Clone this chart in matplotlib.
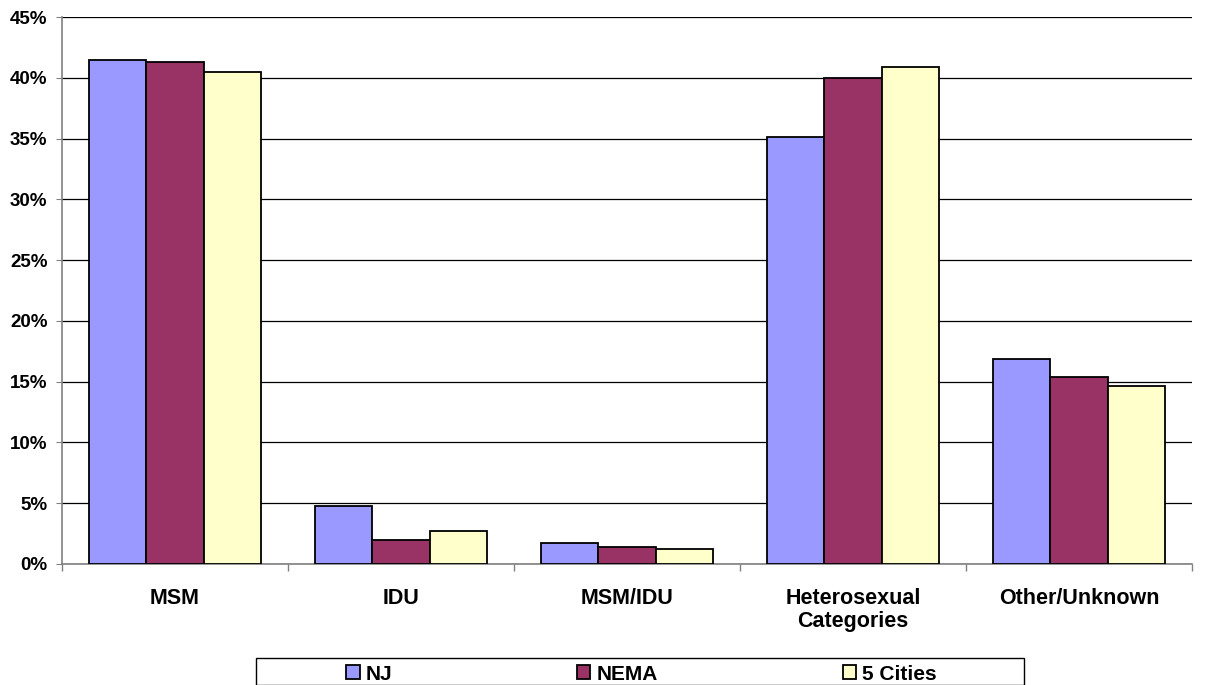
import numpy as np
import matplotlib.pyplot as plt
from matplotlib.patches import Rectangle
from matplotlib.ticker import PercentFormatter

plt.rcParams['font.family'] = ['Liberation Sans', 'DejaVu Sans']

# =====================
# data
# =====================
categories = ["MSM", "IDU", "MSM/IDU", "Heterosexual\nCategories", "Other/Unknown"]
series = ["NJ", "NEMA", "5 Cities"]
nj = [41.5, 4.8, 1.75, 35.15, 16.85]
nema = [41.3, 1.95, 1.4, 40.0, 15.35]
cities5 = [40.5, 2.7, 1.2, 40.9, 14.65]
colors = ["#9999FF", "#993366", "#FFFFCC"]

W, H = 1208, 685

# =====================
# plot
# =====================
fig = plt.figure(figsize=(W / 100, H / 100), dpi=100)
ax = fig.add_axes([62 / W, 1 - 564 / H, 1130 / W, 547 / H])

x = np.arange(len(categories))
w = 0.253
for i, (vals, name) in enumerate(zip([nj, nema, cities5], series)):
    ax.bar(x + (i - 1) * w, vals, width=w, color=colors[i], edgecolor="black",
           linewidth=1.3, label=name, zorder=3)

ax.set_xlim(-0.5, len(categories) - 0.5)
ax.set_ylim(0, 45)
ax.set_yticks(np.arange(0, 46, 5))
ax.yaxis.set_major_formatter(PercentFormatter(decimals=0))
ax.grid(axis="y", color="black", linewidth=0.9, zorder=0)

# category labels centred, ticks between groups
ax.set_xticks(x)
ax.set_xticklabels(categories, fontsize=15.5, fontweight="bold", linespacing=1.15)
ax.tick_params(axis="x", length=0, pad=17)
ax.set_xticks(np.arange(-0.5, len(categories), 1), minor=True)
ax.tick_params(axis="x", which="minor", length=5, color="#808080", width=1)
ax.tick_params(axis="y", length=4.5, color="#808080", labelsize=13.5, pad=6)
for lbl in ax.get_yticklabels():
    lbl.set_fontweight("bold")

ax.spines["top"].set_visible(False)
ax.spines["right"].set_visible(False)
ax.spines["left"].set_color("#808080")
ax.spines["bottom"].set_color("#808080")
ax.spines["left"].set_linewidth(1.2)
ax.spines["bottom"].set_linewidth(1.2)

# legend: items spread inside a wide box at the bottom
fig.add_artist(Rectangle((256 / W, 0), 768 / W, 1 - 658 / H,
                         transform=fig.transFigure, facecolor="white",
                         edgecolor="black", linewidth=1.0))
leg = fig.legend(loc="center",
                 bbox_to_anchor=(346 / W, 1 - 674 / H, 591 / W, 0),
                 mode="expand", ncol=3, frameon=False,
                 prop={"weight": "bold", "size": 15}, handlelength=0.65,
                 handleheight=0.65, handletextpad=0.3, borderaxespad=0,
                 borderpad=0.0)

fig.savefig("out.png", dpi=100)
